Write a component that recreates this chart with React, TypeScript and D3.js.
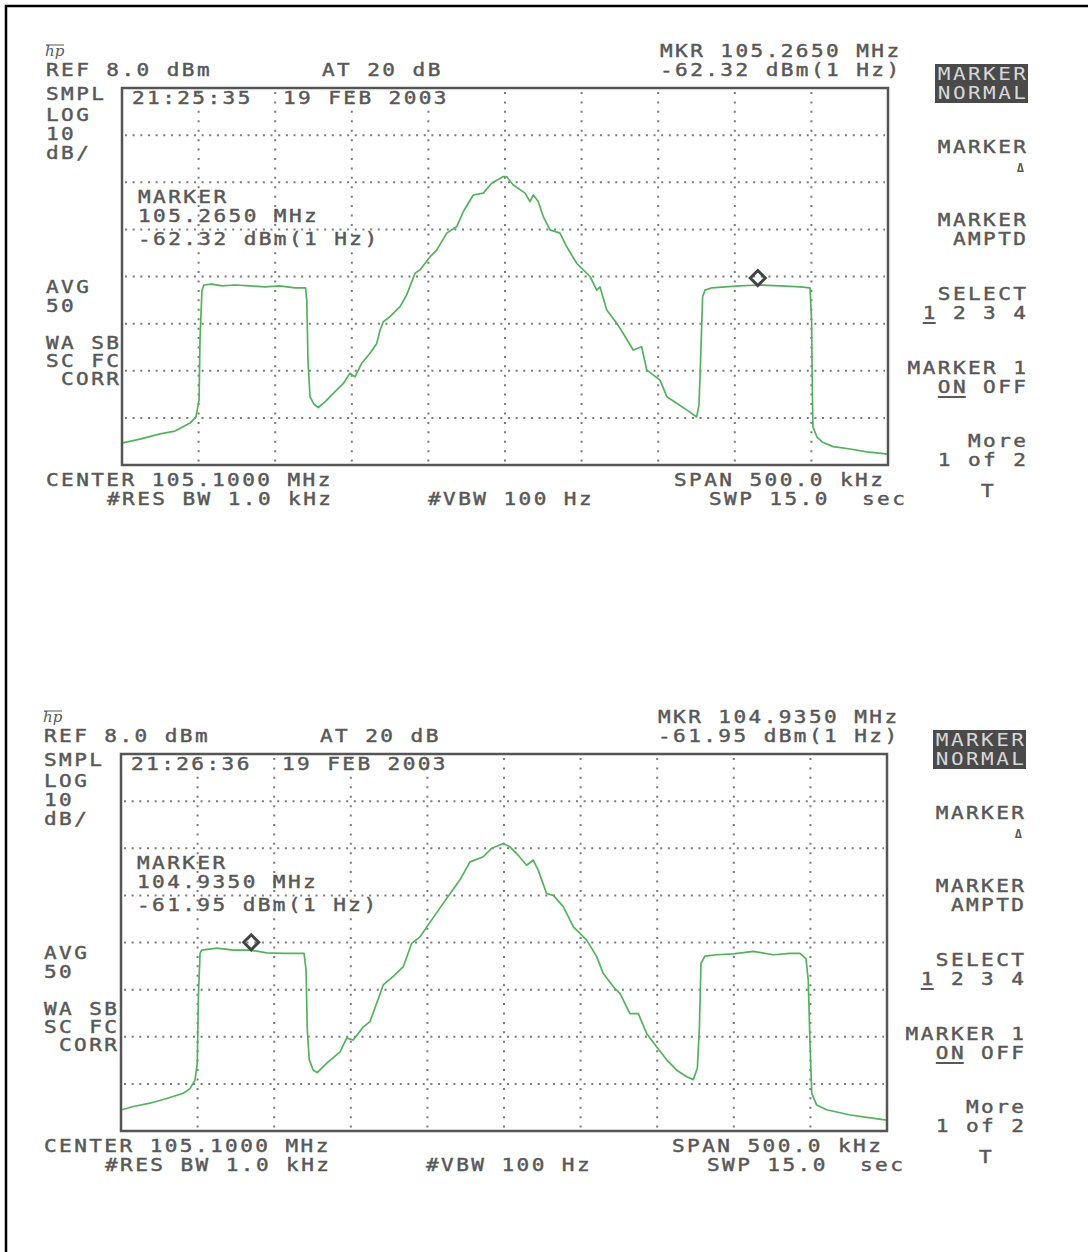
import React from "react";
import * as d3 from "d3";

// ---------- data ----------
// trace 1 (top screen): frequency offset from centre (kHz) and level (dBm)
const topFreq = [-249.5, -238.3, -225.2, -215.4, -205.6, -201.7, -199.7, -199.1, -197.8, -196.5, -191.3, -184.7, -176.2, -166.4, -156.7, -146.9, -137.1, -130.2, -129.4, -128.6, -127.3, -124.7, -121.9, -117.5, -112.1, -105.5, -101.2, -97.9, -93.5, -88.1, -83.7, -81.6, -79.4, -75.1, -68.5, -64.2, -58.7, -55.5, -48.9, -44.6, -38.0, -31.5, -27.2, -20.7, -14.2, -8.7, -1.1, 1.1, 5.4, 13.1, 16.3, 18.5, 21.7, 25.0, 29.4, 35.9, 40.3, 46.8, 55.5, 59.9, 62.0, 66.4, 72.9, 77.2, 83.7, 89.2, 92.5, 101.2, 105.6, 112.1, 118.6, 125.1, 126.6, 127.3, 129.0, 130.5, 135.1, 143.6, 153.4, 166.4, 179.5, 192.6, 199.1, 200.1, 200.7, 201.0, 203.7, 207.0, 214.2, 225.3, 236.1, 250];
const topLevel = [-67.3, -66.5, -65.4, -64.8, -63.1, -61.8, -58.2, -45.5, -34.9, -33.8, -33.6, -34.0, -33.8, -34.0, -34.2, -34.0, -34.4, -34.4, -37.0, -49.7, -57.5, -59.1, -59.8, -58.6, -56.8, -54.7, -52.5, -53.3, -50.4, -48.3, -46.2, -43.4, -41.6, -40.5, -38.4, -35.9, -31.3, -30.6, -27.8, -26.4, -22.8, -21.4, -18.2, -14.7, -14.3, -12.2, -10.8, -10.8, -12.6, -14.3, -16.1, -14.7, -16.1, -19.3, -22.1, -22.8, -25.7, -29.2, -32.0, -34.9, -34.2, -39.1, -41.9, -44.1, -47.6, -46.9, -51.8, -54.0, -57.5, -58.9, -60.3, -61.8, -59.3, -53.3, -36.3, -34.9, -34.4, -34.2, -34.0, -33.8, -34.0, -34.2, -34.4, -41.2, -58.2, -63.9, -66.1, -67.1, -68.1, -68.6, -69.2, -69.7];

// trace 2 (bottom screen)
const bottomFreq = [-249.5, -242.0, -231.1, -220.2, -209.3, -205.0, -201.7, -200.2, -199.5, -198.4, -197.3, -187.5, -176.7, -165.8, -154.9, -144.1, -130.5, -129.2, -128.4, -127.1, -124.5, -121.9, -115.7, -107.0, -102.7, -98.4, -91.8, -87.5, -83.1, -78.8, -72.3, -65.7, -60.3, -54.8, -47.2, -39.7, -34.2, -28.7, -22.2, -13.5, -8.0, -0.5, 3.9, 9.3, 14.8, 19.1, 22.4, 27.8, 32.2, 38.7, 45.3, 54.0, 60.5, 64.8, 71.4, 75.7, 82.2, 87.7, 93.1, 99.6, 106.2, 112.7, 119.3, 123.6, 126.2, 127.5, 128.6, 131.2, 138.8, 149.7, 162.7, 175.8, 186.7, 193.2, 197.1, 198.6, 199.8, 200.9, 204.1, 210.6, 226.0, 236.8, 249.8];
const bottomLevel = [-67.5, -66.8, -66.1, -65.1, -64.0, -63.0, -61.2, -57.6, -43.5, -34.3, -33.6, -33.2, -33.6, -33.6, -34.2, -34.3, -34.3, -37.8, -50.6, -56.9, -59.1, -59.6, -57.6, -55.2, -52.3, -52.7, -49.9, -48.8, -44.9, -41.0, -39.2, -37.1, -32.2, -30.8, -27.2, -23.7, -21.2, -18.7, -14.9, -13.8, -12.0, -11.0, -11.7, -13.5, -15.6, -14.5, -16.7, -21.6, -22.0, -24.4, -28.7, -31.5, -35.0, -38.6, -41.4, -42.8, -47.1, -47.1, -51.3, -54.1, -56.9, -59.1, -60.5, -61.1, -58.7, -50.6, -36.4, -34.9, -34.6, -34.4, -33.9, -34.6, -34.3, -34.3, -35.4, -40.0, -54.1, -64.0, -66.5, -67.5, -68.6, -69.1, -69.7];

// markers: offset (kHz), level on display (dBm), readouts
const markerOffset = [165, -165];
const markerDisplay = [-32.32, -31.95];
const markerFreqText = ["105.2650", "104.9350"];
const markerLevelText = ["-62.32", "-61.95"];
const timeStamps = ["21:25:35", "21:26:36"];
const dateStamp = "19 FEB 2003";

// axes: span 500 kHz, 10 div; ref 8 dBm, 10 dB/div, 8 div
const freqDomain = [-250, 250];
const levelDomain = [-72, 8];
const gridFreqs = [-200, -150, -100, -50, 0, 50, 100, 150, 200];
const gridLevels = [-2, -12, -22, -32, -42, -52, -62];

// ---------- style ----------
const FONT = "'DejaVu Sans Mono', monospace";
const FS = 18;
const SX = 1.17;
const ADV = 15.1; // on-screen advance per character
const LS = ADV / SX - FS * 0.602;
const TXT = "#585858";
const GREEN = "#52b35e";

function T({ x, y, s, fill = TXT, size = FS, anchor = "start", thick = 0.45 }: any) {
  return (
    <text transform={`translate(${x},${y}) scale(${SX},1)`} x={0} y={0} fontFamily={FONT} fontSize={size}
      letterSpacing={LS} fill={fill} stroke={thick ? fill : "none"} strokeWidth={thick}
      textAnchor={anchor} style={{ whiteSpace: "pre" }}>{s}</text>
  );
}
const rx = (s: string, xr: number) => xr - s.length * ADV + LS * SX;

function Panel({ dy, dxT, plot, freq, level, mi }: any) {
  const { L, R, Tp, B } = plot;
  const x = d3.scaleLinear().domain(freqDomain).range([L, R]);
  const y = d3.scaleLinear().domain(levelDomain).range([B, Tp]);
  const pts = freq.map((f: number, i: number) => [f, level[i]] as [number, number]);
  const line = d3.line<[number, number]>().x((d) => x(d[0])).y((d) => y(d[1]));
  const mx = x(markerOffset[mi]);
  const my = y(markerDisplay[mi]);
  const X = (v: number) => v + dxT;
  const Y = (v: number) => v + dy;
  const XR = 1026 + dxT;
  return (
    <g>
      {/* hp logo */}
      <text x={X(45)} y={Y(56)} fontFamily="'DejaVu Serif', serif" fontStyle="italic"
        fontSize={15} fill={TXT}>hp</text>
      <line x1={X(46)} x2={X(64)} y1={Y(45)} y2={Y(45)} stroke={TXT} strokeWidth={1} />
      <T x={X(46)} y={Y(76)} s="REF 8.0 dBm" />
      <T x={X(322)} y={Y(76)} s="AT 20 dB" />
      <T x={X(660)} y={Y(57)} s={`MKR ${markerFreqText[mi]} MHz`} />
      <T x={X(660)} y={Y(76)} s={`${markerLevelText[mi]} dBm(1 Hz)`} />
      <T x={X(46)} y={Y(100)} s="SMPL" />
      <T x={X(46)} y={Y(121)} s="LOG" />
      <T x={X(46)} y={Y(140)} s="10" />
      <T x={X(46)} y={Y(159)} s="dB/" />
      <T x={X(46)} y={Y(293)} s="AVG" />
      <T x={X(46)} y={Y(312)} s="50" />
      <T x={X(46)} y={Y(349)} s="WA SB" />
      <T x={X(46)} y={Y(367)} s="SC FC" />
      <T x={X(61)} y={Y(385)} s="CORR" />
      <T x={X(46)} y={Y(486)} s="CENTER 105.1000 MHz" />
      <T x={X(107)} y={Y(505)} s="#RES BW 1.0 kHz" />
      <T x={X(428)} y={Y(505)} s="#VBW 100 Hz" />
      <T x={X(674)} y={Y(486)} s="SPAN 500.0 kHz" />
      <T x={X(709)} y={Y(505)} s="SWP 15.0" />
      <T x={X(862)} y={Y(505)} s="sec" />

      {/* softkeys */}
      <rect x={X(935)} y={Y(64)} width={93} height={39} fill="#4a4a4a" />
      <T x={rx("MARKER", XR)} y={Y(80)} s="MARKER" fill="#d8d8d8" thick={0} />
      <T x={rx("NORMAL", XR)} y={Y(99)} s="NORMAL" fill="#d8d8d8" thick={0} />
      <T x={rx("MARKER", XR)} y={Y(153)} s="MARKER" />
      <text x={XR - 2} y={Y(172)} fontFamily={FONT} fontSize={12} fontWeight="bold" textAnchor="end" fill={TXT}>Δ</text>
      <T x={rx("MARKER", XR)} y={Y(226)} s="MARKER" />
      <T x={rx("AMPTD", XR)} y={Y(245)} s="AMPTD" />
      <T x={rx("SELECT", XR)} y={Y(300)} s="SELECT" />
      <T x={rx("1 2 3 4", XR)} y={Y(319)} s="1 2 3 4" />
      <line x1={rx("1 2 3 4", XR)} x2={rx("1 2 3 4", XR) + 13} y1={Y(323)} y2={Y(323)} stroke={TXT} strokeWidth={2} />
      <T x={rx("MARKER 1", XR)} y={Y(374)} s="MARKER 1" />
      <T x={rx("ON OFF", XR)} y={Y(393)} s="ON OFF" />
      <line x1={rx("ON OFF", XR)} x2={rx("ON OFF", XR) + 28} y1={Y(397)} y2={Y(397)} stroke={TXT} strokeWidth={2} />
      <T x={rx("More", XR)} y={Y(447)} s="More" />
      <T x={rx("1 of 2", XR)} y={Y(466)} s="1 of 2" />
      <T x={X(981)} y={Y(497)} s="T" />

      {/* graticule */}
      {gridLevels.map((v) => (
        <line key={"h" + v} x1={L + 3} x2={R - 3} y1={y(v)} y2={y(v)} stroke="#7a7a7a"
          strokeWidth={2} strokeDasharray={`2 ${(R - L) / 100 - 2}`} />
      ))}
      {gridFreqs.map((v) => (
        <line key={"v" + v} x1={x(v)} x2={x(v)} y1={Tp + 4} y2={B - 3} stroke="#7a7a7a"
          strokeWidth={2} strokeDasharray={`2 ${(B - Tp) / 40 - 2}`} />
      ))}
      <T x={L + 10} y={Y(104)} s={`${timeStamps[mi]}  ${dateStamp}`} />
      <T x={L + 16} y={Y(203)} s="MARKER" />
      <T x={L + 16} y={Y(222)} s={`${markerFreqText[mi]} MHz`} />
      <T x={L + 16} y={Y(245)} s={`${markerLevelText[mi]} dBm(1 Hz)`} />

      {/* trace */}
      <path d={line(pts) || ""} fill="none" stroke={GREEN} strokeWidth={1.7} strokeLinejoin="round" />
      {/* marker */}
      <path d={`M${mx},${my - 7.5}L${mx + 7.5},${my}L${mx},${my + 7.5}L${mx - 7.5},${my}Z`}
        fill="none" stroke="#444" strokeWidth={3} />
      {/* frame */}
      <rect x={L} y={Tp} width={R - L} height={B - Tp} fill="none" stroke="#555" strokeWidth={2.5} />
    </g>
  );
}

export default function App() {
  return (
    <svg width={1088} height={1252} style={{ position: "absolute", left: 0, top: 0, background: "#fff" }}>
      <rect x={0} y={0} width={1088} height={1252} fill="#fff" />
      <rect x={6} y={6} width={1100} height={1270} fill="none" stroke="#000" strokeWidth={2.5} />
      <Panel dy={0} dxT={0} plot={{ L: 122, R: 888, Tp: 88, B: 465 }} freq={topFreq} level={topLevel} mi={0} />
      <Panel dy={666} dxT={-2} plot={{ L: 121, R: 887, Tp: 754, B: 1131 }} freq={bottomFreq} level={bottomLevel} mi={1} />
    </svg>
  );
}
